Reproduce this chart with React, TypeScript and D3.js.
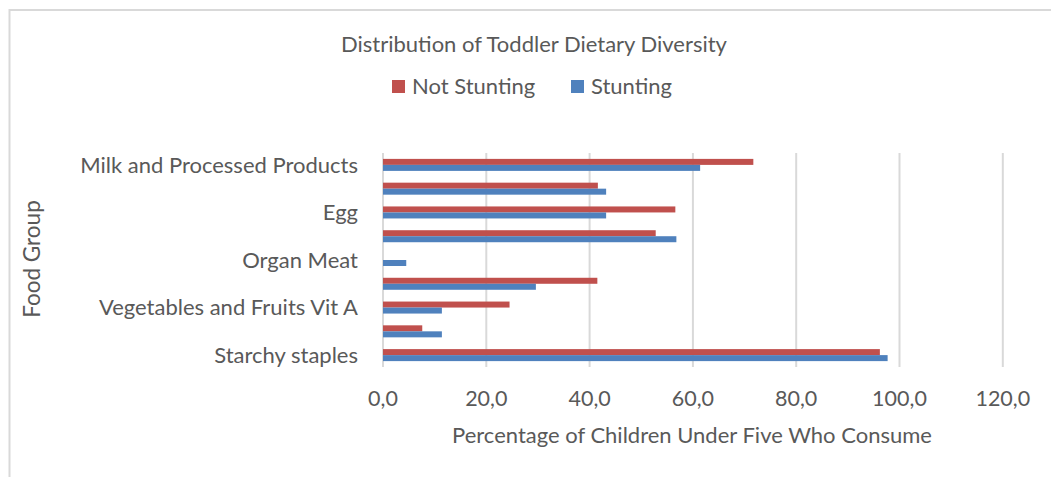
import React from "react";
import * as d3 from "d3";

// Categories listed bottom-to-top as in the chart (Excel order)
const categories = [
  "Starchy staples",
  "Dark Green Leafy Vegetables",
  "Vegetables and Fruits Vit A",
  "Other Vegetables and Fruits",
  "Organ Meat",
  "Meat and Fish",
  "Egg",
  "Nuts and Seeds",
  "Milk and Processed Products",
];
const notStunting = [96.2, 7.6, 24.5, 41.5, 0, 52.8, 56.6, 41.6, 71.7];
const stunting = [97.7, 11.4, 11.4, 29.6, 4.5, 56.8, 43.2, 43.2, 61.4];
const xTicks = [0, 20, 40, 60, 80, 100, 120];
const seriesNames = ["Not Stunting", "Stunting"];
const seriesColors = ["#C0504D", "#4F81BD"];

const W = 1051;
const H = 477;
const FONT = "Lato, 'Open Sans', sans-serif";
const TXT = "#595959";

export default function App() {
  const x = d3.scaleLinear().domain([0, 120]).range([383, 1002.8]);
  const topDown = categories.slice().reverse();
  const y = d3
    .scaleBand<string>()
    .domain(topDown)
    .range([153, 367])
    .paddingInner(0.495)
    .paddingOuter(0.2475);
  const sub = d3.scaleBand<string>().domain(seriesNames).range([0, y.bandwidth()]);
  const fmt = (v: number) => v.toFixed(1).replace(".", ",");
  const series = [notStunting, stunting];
  const [y0, y1] = y.range();

  return (
    <svg
      width={W}
      height={H}
      style={{ position: "absolute", left: 0, top: 0, background: "#fff" }}
      fontFamily={FONT}
    >
      <rect x={9.5} y={10} width={1200} height={600} fill="#fff" stroke="#d9d9d9" strokeWidth={2} />
      <text x={534} y={52} textAnchor="middle" fontSize={22} fill={TXT}>
        Distribution of Toddler Dietary Diversity
      </text>
      {/* legend */}
      {seriesNames.map((s, i) => {
        const lx = i === 0 ? 392 : 571;
        return (
          <g key={s}>
            <rect x={lx} y={80} width={13} height={13} fill={seriesColors[i]} />
            <text x={lx + 20} y={94} fontSize={22} fill={TXT}>
              {s}
            </text>
          </g>
        );
      })}
      {/* gridlines */}
      {xTicks.map((t) => (
        <line key={t} x1={x(t)} x2={x(t)} y1={y0} y2={y1} stroke="#d9d9d9" strokeWidth={2} />
      ))}
      {/* bars */}
      {categories.map((c, ci) =>
        series.map((vals, si) => (
          <rect
            key={c + si}
            x={x(0)}
            y={(y(c) as number) + (sub(seriesNames[si]) as number)}
            width={x(vals[ci]) - x(0)}
            height={sub.bandwidth()}
            fill={seriesColors[si]}
          />
        ))
      )}
      {/* y labels (every other shown, as in reference) */}
      {categories.map((c, ci) =>
        ci % 2 === 0 ? (
          <text
            key={c}
            x={358}
            y={(y(c) as number) + y.bandwidth() / 2}
            dy="0.36em"
            textAnchor="end"
            fontSize={22}
            fill={TXT}
          >
            {c}
          </text>
        ) : null
      )}
      {/* x tick labels */}
      {xTicks.map((t) => (
        <text key={t} x={x(t)} y={406} textAnchor="middle" fontSize={21.5} fill={TXT}>
          {fmt(t)}
        </text>
      ))}
      <text x={692} y={443} textAnchor="middle" fontSize={22} fill={TXT}>
        Percentage of Children Under Five Who Consume
      </text>
      <text transform="translate(40,259) rotate(-90)" textAnchor="middle" fontSize={22.5} fill={TXT}>
        Food Group
      </text>
    </svg>
  );
}
